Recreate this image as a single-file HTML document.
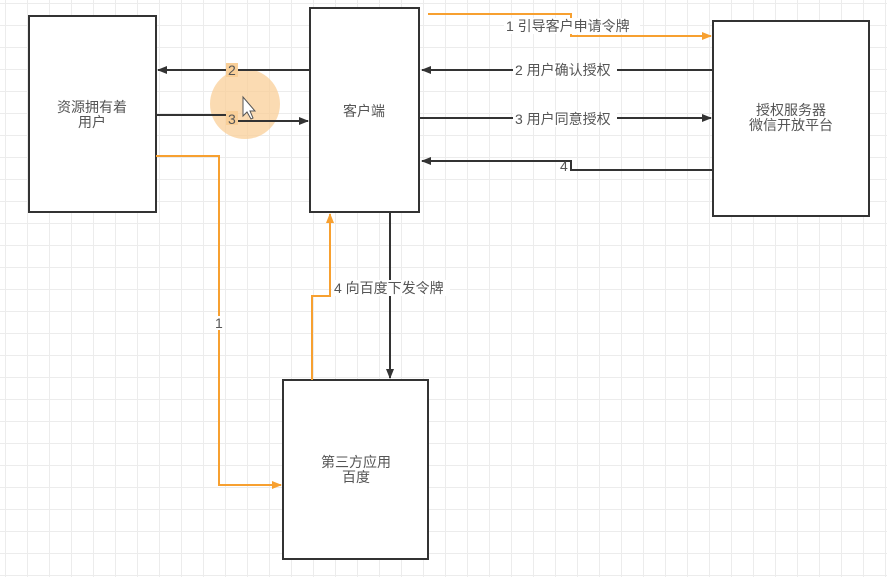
<!DOCTYPE html>
<html><head><meta charset="utf-8"><style>
body{margin:0;width:887px;height:577px;overflow:hidden;background:#fff;
background-image:linear-gradient(#ececec 1px,transparent 1px),linear-gradient(90deg,#ececec 1px,transparent 1px);background-size:22px 22px;background-position:5px 3px;}
svg{position:absolute;left:0;top:0}
text{font-family:"Liberation Sans","Noto Sans CJK SC",sans-serif;font-size:14px;fill:#555}
</style></head><body>
<svg width="887" height="577" viewBox="0 0 887 577">
<defs>
<marker id="a" markerWidth="10" markerHeight="8" refX="9" refY="4" orient="auto" markerUnits="userSpaceOnUse"><path d="M0,0 L10,4 L0,8z" fill="#333"/></marker>
<marker id="o" markerWidth="10" markerHeight="8" refX="9" refY="4" orient="auto" markerUnits="userSpaceOnUse"><path d="M0,0 L10,4 L0,8z" fill="#f7a030"/></marker>
</defs>
<circle cx="245" cy="104" r="35" fill="#f9cf98" opacity="0.75"/>
<g fill="#fff" stroke="#333" stroke-width="2">
<rect x="29" y="16" width="127" height="196"/>
<rect x="310" y="8" width="109" height="204"/>
<rect x="713" y="21" width="156" height="195"/>
<rect x="283" y="380" width="145" height="179"/>
</g>
<g fill="none" stroke="#333" stroke-width="2">
<path d="M310 70 H158" marker-end="url(#a)"/>
<path d="M156 115 H230 V121 H308" marker-end="url(#a)"/>
<path d="M713 70 H422" marker-end="url(#a)"/>
<path d="M419 118 H711" marker-end="url(#a)"/>
<path d="M713 170 H571 V161 H422" marker-end="url(#a)"/>
<path d="M390 212 V378" marker-end="url(#a)"/>
</g>
<g fill="none" stroke="#f7a030" stroke-width="2">
<path d="M428 14 H571 V36 H711" marker-end="url(#o)"/>
<path d="M156 156 H219 V485 H281" marker-end="url(#o)"/>
<path d="M312 380 V296 H330 V214" marker-end="url(#o)"/>
</g>
<g>
<rect x="504" y="18" width="136" height="16" fill="#fff"/>
<text x="506" y="31">1 引导客户申请令牌</text>
<rect x="513" y="62" width="104" height="16" fill="#fff"/>
<text x="515" y="75">2 用户确认授权</text>
<rect x="513" y="111" width="104" height="16" fill="#fff"/>
<text x="515" y="124">3 用户同意授权</text>
<text x="560" y="171">4</text>
<rect x="332" y="280" width="118" height="16" fill="#fff"/>
<text x="334" y="293">4 向百度下发令牌</text>
<rect x="226" y="63" width="12" height="14" fill="#f9cf98"/>
<text x="228" y="75" fill="#7a6a50">2</text>
<rect x="226" y="111" width="12" height="14" fill="#f9cf98"/>
<text x="228" y="124" fill="#7a6a50">3</text>
<rect x="213" y="316" width="12" height="14" fill="#fff"/>
<text x="215" y="328">1</text>
<text x="92" y="112" text-anchor="middle">资源拥有着</text>
<text x="92" y="127" text-anchor="middle">用户</text>
<text x="364" y="116" text-anchor="middle">客户端</text>
<text x="791" y="115" text-anchor="middle">授权服务器</text>
<text x="791" y="130" text-anchor="middle">微信开放平台</text>
<text x="356" y="467" text-anchor="middle">第三方应用</text>
<text x="356" y="482" text-anchor="middle">百度</text>
</g>
<path d="M243 97 L243 116 L247 112 L251 119 L253 118 L250 111 L255 111z" fill="#fff" stroke="#555" stroke-width="1"/>
</svg>
</body></html>
